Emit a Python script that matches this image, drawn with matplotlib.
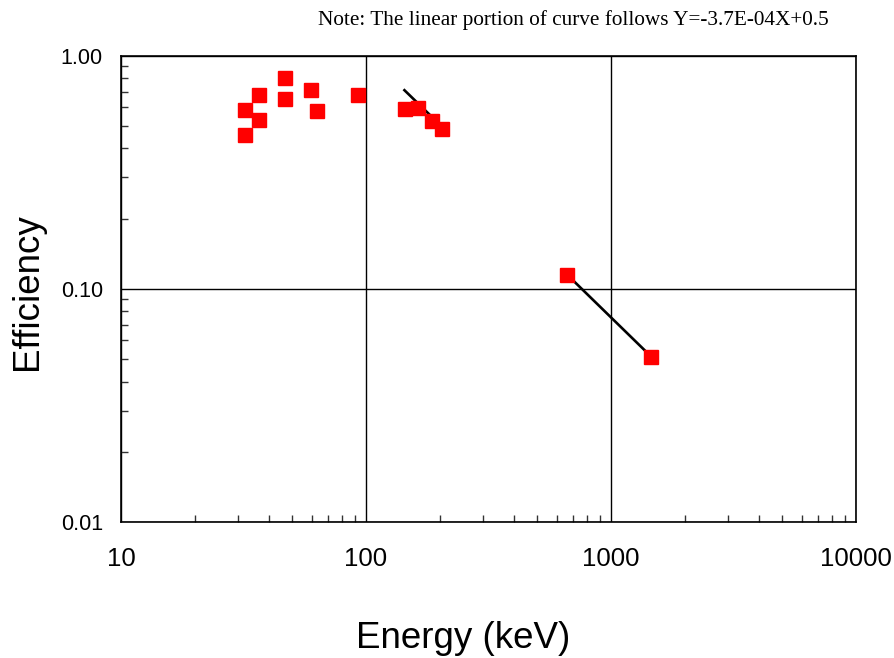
import matplotlib
matplotlib.use("Agg")
import matplotlib.pyplot as plt
from matplotlib.ticker import FixedLocator, FixedFormatter, LogLocator, NullFormatter

energy = [32.0, 32.0, 36.6, 36.6, 46.5, 46.5, 59.5, 63.3, 92.6, 143.8, 163.0, 186.0, 205.0, 662.0, 1461.0]
efficiency = [0.586, 0.454, 0.674, 0.531, 0.797, 0.654, 0.708, 0.581, 0.674, 0.592, 0.598, 0.526, 0.486, 0.115, 0.0511]

fit1_energy = [143.5, 186.0]
fit1_eff = [0.71, 0.545]
fit2_energy = [662.0, 1461.0]
fit2_eff = [0.115, 0.0511]

xticks = [10, 100, 1000, 10000]
xticklabels = ["10", "100", "1000", "10000"]
yticks = [0.01, 0.1, 1.0]
yticklabels = ["0.01", "0.10", "1.00"]

note = "Note: The linear portion of curve follows Y=-3.7E-04X+0.5"

fig = plt.figure(figsize=(8.95, 6.58), dpi=100)
ax = fig.add_axes([121/895, 1-522/658, (856-121)/895, (522-55.5)/658])

ax.plot(fit1_energy, fit1_eff, color="black", lw=1.9, zorder=3)
ax.plot(fit2_energy, fit2_eff, color="black", lw=1.9, zorder=3)
ax.plot(energy, efficiency, linestyle="none", marker="s", markersize=10,
        markerfacecolor="#ff0000", markeredgecolor="#ff0000", zorder=4)

ax.set_xscale("log")
ax.set_yscale("log")
ax.set_xlim(10, 10000)
ax.set_ylim(0.01, 1.0)

ax.xaxis.set_major_locator(FixedLocator(xticks))
ax.xaxis.set_major_formatter(FixedFormatter(xticklabels))
ax.yaxis.set_major_locator(FixedLocator(yticks))
ax.yaxis.set_major_formatter(FixedFormatter(yticklabels))
ax.xaxis.set_minor_locator(LogLocator(base=10, subs=range(2, 10)))
ax.yaxis.set_minor_locator(LogLocator(base=10, subs=range(2, 10)))
ax.xaxis.set_minor_formatter(NullFormatter())
ax.yaxis.set_minor_formatter(NullFormatter())

ax.tick_params(which="major", length=0)
ax.tick_params(axis="y", which="major", pad=13, labelsize=15.5)
ax.tick_params(axis="x", which="major", pad=18, labelsize=18.5)
ax.tick_params(which="minor", direction="in", length=5, width=1, color="#333333")
ax.tick_params(top=False, right=False, which="both")
for lab in ax.get_xticklabels() + ax.get_yticklabels():
    lab.set_fontfamily("Liberation Sans")

ax.grid(True, which="major", color="black", lw=1)
for s in ax.spines.values():
    s.set_color("black")
    s.set_linewidth(1.2)

fig.text(463/895, 1-638/658, "Energy (keV)", fontsize=26.5, family="Liberation Sans",
         ha="center", va="center")
fig.text(28/895, 1-292/658, "Efficiency", fontsize=26.5, family="Liberation Sans",
         ha="center", va="center", rotation=90)

fig.text(573/895, 1-20/658, note, ha="center", va="center", fontsize=15.3,
         family="Liberation Serif")

fig.savefig("out.png", dpi=100)
